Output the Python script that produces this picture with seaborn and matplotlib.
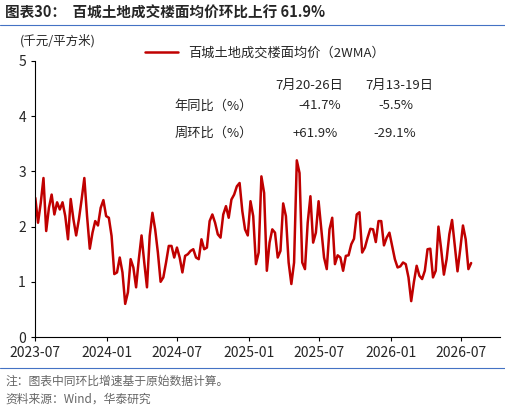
import matplotlib
matplotlib.use("Agg")
import matplotlib.pyplot as plt
import matplotlib.dates as mdates
import seaborn as sns
import pandas as pd

values = [2.52,2.07,2.43,2.88,1.92,2.34,2.58,2.22,2.44,2.31,2.44,2.19,1.77,2.5,2.13,1.84,2.13,2.49,2.88,2.19,
1.6,1.89,2.1,2.02,2.34,2.48,2.19,2.16,1.83,1.14,1.17,1.44,1.17,0.6,0.81,1.41,1.26,0.9,1.41,1.84,
1.35,0.9,1.83,2.25,1.95,1.53,1.0,1.08,1.35,1.65,1.65,1.44,1.62,1.44,1.17,1.47,1.5,1.56,1.59,1.44,
1.41,1.77,1.59,1.62,2.1,2.22,2.07,1.86,1.8,2.22,2.37,2.16,2.49,2.58,2.73,2.79,2.28,1.95,1.84,2.46,
2.19,1.32,1.53,2.91,2.61,1.2,1.71,1.95,1.89,1.44,1.56,2.42,2.19,1.35,0.96,1.35,3.2,2.97,1.35,1.23,
2.07,2.55,1.71,1.89,2.46,1.95,1.44,1.23,1.95,2.16,1.32,1.48,1.44,1.2,1.47,1.48,1.68,1.78,2.22,2.26,
1.53,1.62,1.8,1.96,1.95,1.72,2.1,2.1,1.66,1.8,1.89,1.65,1.41,1.26,1.28,1.35,1.32,1.08,0.65,1.0,
1.29,1.11,1.05,1.2,1.59,1.6,1.08,1.2,2.0,1.59,1.13,1.41,1.86,2.12,1.65,1.19,1.59,2.02,1.77,1.23,1.34]
dates = pd.date_range("2023-07-02", periods=len(values), freq="7D")
df = pd.DataFrame({"date": dates, "value": values})

sns.set_style("white")
plt.rcParams['font.family'] = ['Noto Sans CJK SC', 'DejaVu Sans']
red = "#C00000"

fig = plt.figure(figsize=(5.06, 4.12), dpi=100)
ax = fig.add_axes([0.069, 0.182, 0.919, 0.67])
sns.lineplot(data=df, x="date", y="value", ax=ax, color=red, linewidth=1.8,
             label="百城土地成交楼面均价（2WMA）")
ax.set_xlim(pd.Timestamp("2023-07-01"), pd.Timestamp("2026-10-08"))
ax.set_ylim(0, 5)
ax.set_yticks(range(6))
ax.xaxis.set_major_locator(mdates.MonthLocator(bymonth=[1, 7]))
ax.xaxis.set_major_formatter(mdates.DateFormatter("%Y-%m"))
ax.set_xlabel(""); ax.set_ylabel("")
for s in ["top", "right"]:
    ax.spines[s].set_visible(False)
for s in ["left", "bottom"]:
    ax.spines[s].set_color("black"); ax.spines[s].set_linewidth(0.8)
ax.tick_params(axis="both", labelsize=10, length=3, direction="out", color="black", bottom=True, left=True)
leg = ax.legend(loc="center left", bbox_to_anchor=(0.225, 1.03), frameon=False, fontsize=9.5,
                handlelength=2.5, borderaxespad=0)

tx = ax.transAxes
kw = dict(transform=tx, fontsize=9.5, va="center")
ax.text(0.516, 0.913, "7月20-26日", **kw)
ax.text(0.71, 0.913, "7月13-19日", **kw)
ax.text(0.30, 0.837, "年同比（%）", **kw)
ax.text(0.566, 0.837, "-41.7%", **kw)
ax.text(0.738, 0.837, "-5.5%", **kw)
ax.text(0.30, 0.739, "周环比（%）", **kw)
ax.text(0.555, 0.739, "+61.9%", **kw)
ax.text(0.727, 0.739, "-29.1%", **kw)

fig.text(0.01, 0.968, "图表30：  百城土地成交楼面均价环比上行 61.9%", fontsize=10.5, fontweight="bold", va="center")
fig.text(0.04, 0.9, "(千元/平方米)", fontsize=9, va="center")
fig.add_artist(plt.Line2D([0.0, 1.0], [0.94, 0.94], color="#4472C4", linewidth=0.8))
fig.add_artist(plt.Line2D([0.0, 1.0], [0.107, 0.107], color="#4472C4", linewidth=0.8))
fig.text(0.01, 0.075, "注：图表中同环比增速基于原始数据计算。", fontsize=8.5, color="#666666", va="center")
fig.text(0.01, 0.03, "资料来源：Wind，华泰研究", fontsize=8.5, color="#666666", va="center")
fig.savefig("out.png", dpi=100)
